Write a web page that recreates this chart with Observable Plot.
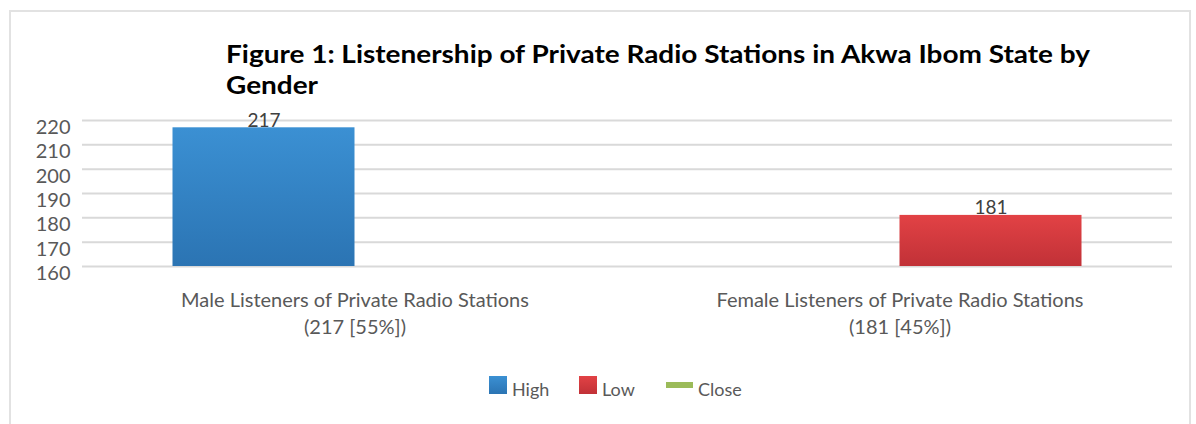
<!DOCTYPE html>
<html>
<head>
<meta charset="utf-8">
<script src="https://cdn.jsdelivr.net/npm/d3@7"></script>
<script src="https://cdn.jsdelivr.net/npm/@observablehq/plot@0.6"></script>
<style>
  html, body { margin: 0; padding: 0; background: #fff; }
  #wrap { position: relative; width: 1196px; height: 424px; overflow: hidden; font-family: Lato, "Open Sans", sans-serif; }
  #frame { position: absolute; left: 9px; top: 10px; width: 1182px; height: 430px; border: 2px solid #e2e2e2; box-sizing: border-box; }
  #title { position: absolute; left: 226px; top: 38px; font-weight: 700; font-size: 25px; line-height: 31px; color: #000; white-space: nowrap; transform-origin: 0 0; }
  #chart { position: absolute; left: 0; top: 0; }
  #legend { position: absolute; left: 0; top: 372px; width: 1196px; height: 30px; }
  .li { position: absolute; top: 0; font-size: 18px; color: #595959; }
  .sw { position: absolute; }
</style>
</head>
<body>
<div id="wrap">
  <div id="frame"></div>
  <div id="chart"></div>
  <div id="title"></div>
  <div id="legend"></div>
</div>
<script>
// ---- data ----
const titleLines = ["Figure 1: Listenership of Private Radio Stations in Akwa Ibom State by", "Gender"];
const categories = ["Male Listeners of Private Radio Stations", "Female Listeners of Private Radio Stations"];
const categorySubLabels = ["(217 [55%])", "(181 [45%])"];
const seriesNames = ["High", "Low", "Close"];
const seriesColors = ["#3688cb", "#d83a3e", "#9bbb59"];
const highValues = [217, null];
const lowValues = [null, 181];
const closeValues = [null, null];
const yDomain = [160, 220];
const yTicks = [160, 170, 180, 190, 200, 210, 220];

// ---- build table ----
const valuesBySeries = [highValues, lowValues, closeValues];
const rows = [];
seriesNames.forEach((s, si) => {
  categories.forEach((c, ci) => {
    const v = valuesBySeries[si][ci];
    if (v != null) rows.push({series: s, category: c, value: v});
  });
});
const seriesOffset = {High: -91, Low: 91, Close: 0};
const barWidth = 182;

document.getElementById("title").innerHTML = titleLines.join("<br>");

const width = 1196, height = 350;
const marginLeft = 82, marginRight = 24, marginTop = 120, marginBottom = 84;
const band = (width - marginLeft - marginRight) / categories.length;
const inset = (band - barWidth) / 2;

const marks = [
  Plot.ruleY(yTicks, {stroke: "#d9d9d9", strokeWidth: 2}),
  Plot.axisY({ticks: yTicks, tickSize: 0, tickPadding: 12, dy: 7, fontSize: 20, color: "#595959", label: null}),
  Plot.axisX({tickSize: 0, tickPadding: 21, fontSize: 20, color: "#595959", label: null, lineHeight: 1.35,
    tickFormat: (d) => d + "\n" + categorySubLabels[categories.indexOf(d)]})
];
seriesNames.forEach((s, si) => {
  const sub = rows.filter(r => r.series === s);
  if (!sub.length) return;
  marks.push(Plot.barY(sub, {x: "category", y1: yDomain[0], y2: "value", fill: `url(#grad${si})`,
    insetLeft: inset, insetRight: inset, dx: seriesOffset[s]}));
  marks.push(Plot.text(sub, {x: "category", y: "value", text: d => String(d.value), dx: seriesOffset[s],
    lineAnchor: "bottom", dy: -1, fontSize: 19, fill: "#404040"}));
});

const chart = Plot.plot({
  width, height, marginLeft, marginRight, marginTop, marginBottom,
  style: {fontFamily: "Lato, 'Open Sans', sans-serif", background: "transparent", overflow: "visible"},
  x: {type: "band", domain: categories, padding: 0, axis: null},
  y: {domain: yDomain, axis: null},
  marks
});

const defs = d3.select(chart).insert("defs", ":first-child");
const gradStops = [["#3b90d3", "#2b74b3"], ["#e24245", "#c13137"], ["#a5c862", "#8cab4c"]];
gradStops.forEach((g, i) => {
  const lg = defs.append("linearGradient").attr("id", "grad" + i).attr("x1", 0).attr("y1", 0).attr("x2", 0).attr("y2", 1);
  lg.append("stop").attr("offset", "0%").attr("stop-color", g[0]);
  lg.append("stop").attr("offset", "100%").attr("stop-color", g[1]);
});
document.getElementById("chart").appendChild(chart);

// legend
const legend = document.getElementById("legend");
const legendPos = [489, 579, 666];
seriesNames.forEach((s, i) => {
  const sw = document.createElement("div");
  sw.className = "sw";
  if (s === "Close") {
    Object.assign(sw.style, {left: legendPos[i] + "px", top: "10px", width: "27px", height: "6px", background: seriesColors[i]});
  } else {
    Object.assign(sw.style, {left: legendPos[i] + "px", top: "4px", width: "18px", height: "18px",
      background: `linear-gradient(${gradStops[i][0]}, ${gradStops[i][1]})`});
  }
  legend.appendChild(sw);
  const t = document.createElement("div");
  t.className = "li";
  t.textContent = s;
  t.style.left = (legendPos[i] + (s === "Close" ? 32 : 23)) + "px";
  t.style.top = "6px";
  legend.appendChild(t);
});

// fit title first line width to reference
const titleEl = document.getElementById("title");
const probe = document.createElement("span");
probe.style.cssText = "position:absolute;visibility:hidden;white-space:nowrap;font:700 25px Lato";
probe.textContent = titleLines[0];
document.body.appendChild(probe);
const w = probe.getBoundingClientRect().width;
probe.remove();
titleEl.style.transform = `scaleX(${864 / w})`;
</script>
</body>
</html>
